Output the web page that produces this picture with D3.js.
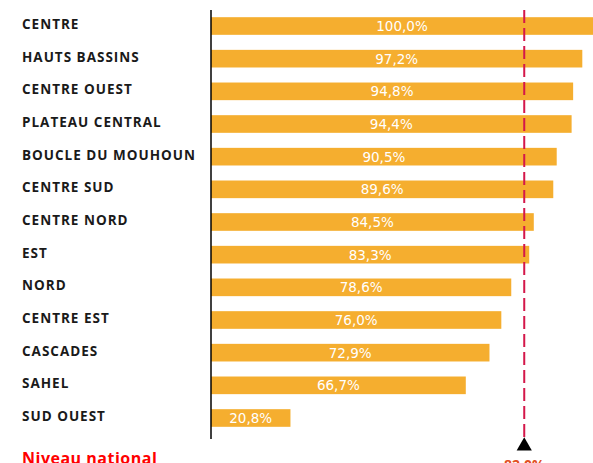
<!DOCTYPE html>
<html>
<head>
<meta charset="utf-8">
<script src="https://cdn.jsdelivr.net/npm/d3@7"></script>
<style>
  body { margin: 0; background: #fff; }
  svg { display: block; }
</style>
</head>
<body>
<div id="chart"></div>
<script>
// regions and their rates (%)
var regions = ["CENTRE", "HAUTS BASSINS", "CENTRE OUEST", "PLATEAU CENTRAL", "BOUCLE DU MOUHOUN",
    "CENTRE SUD", "CENTRE NORD", "EST", "NORD", "CENTRE EST", "CASCADES", "SAHEL", "SUD OUEST"];
var rates = [100.0, 97.2, 94.8, 94.4, 90.5, 89.6, 84.5, 83.3, 78.6, 76.0, 72.9, 66.7, 20.8];
var nationalLabel = "Niveau national";
var nationalRate = 82.0;

var width = 593,
    height = 463,
    margin = {top: 10, right: 0, bottom: 29, left: 211};

var data = regions.map(function(r, i) { return {region: r, rate: rates[i]}; });
var fmt = function(v) { return d3.format(".1f")(v).replace(".", ",") + "%"; };

var svg = d3.select("#chart").append("svg")
    .attr("width", width)
    .attr("height", height);

var x = d3.scaleLinear()
    .domain([0, 100])
    .range([margin.left, width - margin.right]);

var y = d3.scaleBand()
    .domain(regions)
    .range([margin.top, height - margin.bottom])
    .paddingInner(0.46)
    .paddingOuter(0.22);

// bars
svg.selectAll("rect.bar")
    .data(data)
    .enter()
    .append("rect")
    .attr("class", "bar")
    .attr("x", x(0))
    .attr("y", d => y(d.region))
    .attr("width", d => x(d.rate) - x(0))
    .attr("height", y.bandwidth())
    .attr("fill", "#f5ae2f");

// value labels
svg.selectAll("text.val")
    .data(data)
    .enter()
    .append("text")
    .attr("class", "val")
    .attr("x", d => (x(0) + x(d.rate)) / 2)
    .attr("y", d => y(d.region) + y.bandwidth() / 2)
    .attr("dy", "0.36em")
    .attr("text-anchor", "middle")
    .attr("fill", "#fff")
    .style("font-family", "'DejaVu Sans', sans-serif")
    .style("font-size", "13.5px")
    .text(d => fmt(d.rate));

// region labels
svg.selectAll("text.lab")
    .data(data)
    .enter()
    .append("text")
    .attr("class", "lab")
    .attr("x", 22)
    .attr("y", d => y(d.region) + y.bandwidth() / 2 - 2)
    .attr("dy", "0.36em")
    .attr("fill", "#1a1a1a")
    .style("font-family", "'Open Sans', sans-serif")
    .style("font-weight", "bold")
    .style("font-size", "13.5px")
    .style("letter-spacing", "1px")
    .text(d => d.region);

// vertical axis line
svg.append("line")
    .attr("x1", x(0)).attr("x2", x(0))
    .attr("y1", margin.top).attr("y2", height - margin.bottom + 5)
    .attr("stroke", "#000")
    .attr("stroke-width", 1.5);

// national level marker
var nx = x(nationalRate);
svg.append("line")
    .attr("x1", nx).attr("x2", nx)
    .attr("y1", margin.top).attr("y2", 440)
    .attr("stroke", "#d4174a")
    .attr("stroke-width", 2)
    .attr("stroke-dasharray", "13,5");

svg.append("path")
    .attr("d", d3.symbol().type(d3.symbolTriangle).size(100))
    .attr("transform", "translate(" + nx + ",446)")
    .attr("fill", "#000");

svg.append("text")
    .attr("x", nx)
    .attr("y", 470)
    .attr("text-anchor", "middle")
    .attr("fill", "#e2501f")
    .style("font-family", "'Open Sans', sans-serif")
    .style("font-weight", "bold")
    .style("font-size", "14px")
    .text(fmt(nationalRate));

svg.append("text")
    .attr("x", 22)
    .attr("y", 464)
    .attr("fill", "#ff0000")
    .style("font-family", "'Open Sans', sans-serif")
    .style("font-weight", "bold")
    .style("font-size", "16px")
    .style("letter-spacing", "0.5px")
    .text(nationalLabel);
</script>
</body>
</html>
